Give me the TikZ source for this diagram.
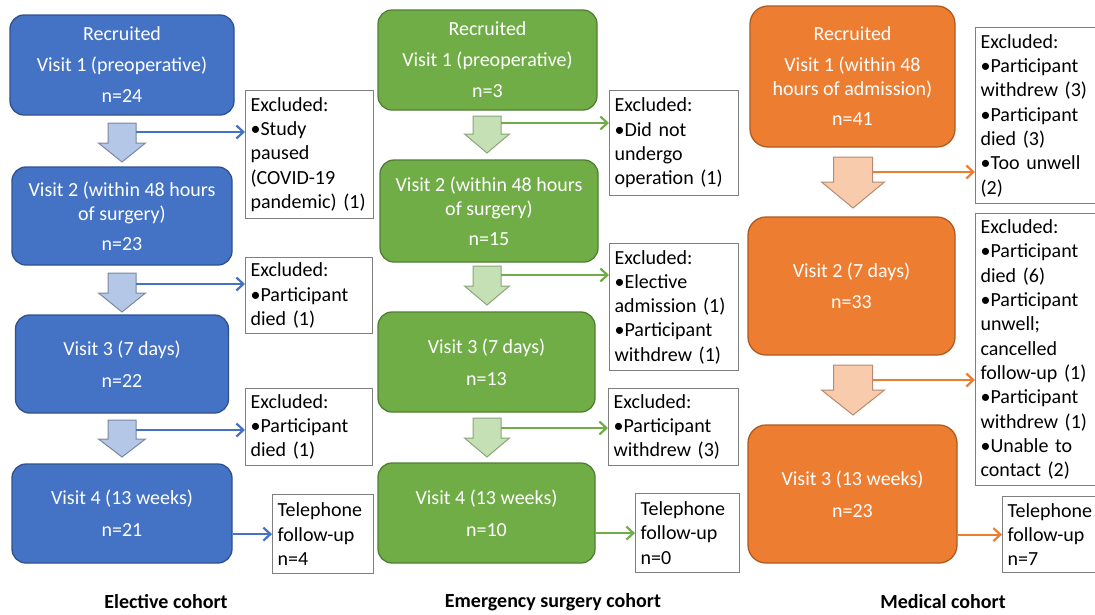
\documentclass[tikz,border=0pt]{standalone}
\usepackage{fontspec}
\setmainfont{Carlito}
\usetikzlibrary{arrows.meta}
\definecolor{bfill}{HTML}{4472C4}
\definecolor{bdraw}{HTML}{2F528F}
\definecolor{barr}{HTML}{B4C7E7}
\definecolor{barrd}{HTML}{7A87A3}
\definecolor{gfill}{HTML}{70AD47}
\definecolor{gdraw}{HTML}{507E32}
\definecolor{garr}{HTML}{C5E0B4}
\definecolor{garrd}{HTML}{8AA57A}
\definecolor{ofill}{HTML}{ED7D31}
\definecolor{odraw}{HTML}{AE5A21}
\definecolor{oarr}{HTML}{F8CBAD}
\definecolor{oarrd}{HTML}{B88A70}
\definecolor{exgray}{HTML}{7F7F7F}
\newcommand{\blockarr}[7]{% cx, top, shaftw, headw, headstart, tip, style
  \draw[#7] ({#1-#3/2},#2) -- ({#1+#3/2},#2) -- ({#1+#3/2},#5) -- ({#1+#4/2},#5)
    -- (#1,#6) -- ({#1-#4/2},#5) -- ({#1-#3/2},#5) -- cycle;}
\begin{document}
\begin{tikzpicture}[x=1pt,y=-1pt,
  mbox/.style={rounded corners=14pt, line width=1.3pt, text=white, align=center,
    font=\fontsize{20}{24}\selectfont, inner sep=0pt},
  bluebox/.style={mbox, fill=bfill, draw=bdraw},
  greenbox/.style={mbox, fill=gfill, draw=gdraw},
  orangebox/.style={mbox, fill=ofill, draw=odraw, rounded corners=18pt},
  exbox/.style={draw=exgray, line width=1.2pt, fill=white, anchor=north west, align=left,
    inner xsep=5pt, inner ysep=0pt, font=\fontsize{20}{24.3}\selectfont},
  barrow/.style={fill=barr, draw=barrd, line width=1pt},
  garrow/.style={fill=garr, draw=garrd, line width=1pt},
  oarrow/.style={fill=oarr, draw=oarrd, line width=1pt},
  bline/.style={draw=bfill, line width=2.2pt, -{Straight Barb[length=7pt,width=13pt,line width=2.2pt]}},
  gline/.style={bline, draw=gfill},
  oline/.style={bline, draw=ofill},
  cohort/.style={font=\fontsize{20}{24}\selectfont\bfseries}
]
\useasboundingbox[fill=white] (0,0) rectangle (1095,614);

% ---------------- Elective (blue) ----------------
\node[bluebox, minimum width=224pt, minimum height=100pt] (b1) at (122,65)
  {Recruited\\[7pt]Visit 1 (preoperative)\\[7pt]n=24};
\node[bluebox, minimum width=220pt, minimum height=98pt] (b2) at (122,216)
  {Visit 2 (within 48 hours\\of surgery)\\[6pt]n=23};
\node[bluebox, minimum width=213pt, minimum height=98pt] (b3) at (122,364)
  {Visit 3 (7 days)\\[8pt]n=22};
\node[bluebox, minimum width=220pt, minimum height=99pt] (b4) at (122,513.5)
  {Visit 4 (13 weeks)\\[8pt]n=21};

\blockarr{122}{123}{28}{47}{143}{162}{barrow}
\blockarr{122}{273}{28}{47}{293}{312}{barrow}
\blockarr{122}{420}{28}{47}{439}{457}{barrow}

\node[exbox, text width=118pt, minimum height=128pt] (bex1) at (245,90)
  {Excluded:\\\textbullet{}Study\\paused\\(COVID-19\\pandemic) (1)};
\node[exbox, text width=117pt, minimum height=76pt] (bex2) at (245,257)
  {Excluded:\\\textbullet{}Participant\\died (1)};
\node[exbox, text width=117pt, minimum height=77pt] (bex3) at (245,388)
  {Excluded:\\\textbullet{}Participant\\died (1)};
\node[exbox, text width=91pt, minimum height=79pt] (tb) at (272,494)
  {Telephone\\follow-up\\n=4};

\coordinate (ba1) at (136,132);
\coordinate (ba2) at (136,284);
\coordinate (ba3) at (136,430);
\draw[bline] (ba1) -- (ba1 -| bex1.west);
\draw[bline] (ba2) -- (ba2 -| bex2.west);
\draw[bline] (ba3) -- (ba3 -| bex3.west);
\draw[bline] (b4.east |- tb.west) -- (tb.west);

\node[cohort] (lb) at (166,602) {Elective cohort};

% ---------------- Emergency (green) ----------------
\node[greenbox, minimum width=219pt, minimum height=100pt] (g1) at (487.5,60)
  {Recruited\\[7pt]Visit 1 (preoperative)\\[7pt]n=3};
\node[greenbox, minimum width=218pt, minimum height=102pt] (g2) at (489,211)
  {Visit 2 (within 48 hours\\of surgery)\\[6pt]n=15};
\node[greenbox, minimum width=217pt, minimum height=100pt] (g3) at (486.5,362)
  {Visit 3 (7 days)\\[8pt]n=13};
\node[greenbox, minimum width=217pt, minimum height=100pt] (g4) at (486.5,513)
  {Visit 4 (13 weeks)\\[8pt]n=10};

\blockarr{487}{116}{28}{45}{134}{153}{garrow}
\blockarr{487}{266}{28}{45}{286}{305}{garrow}
\blockarr{487}{418}{28}{45}{438}{457}{garrow}

\node[exbox, text width=119pt, minimum height=105pt] (gex1) at (609,90)
  {Excluded:\\\textbullet{}Did not\\undergo\\operation (1)};
\node[exbox, text width=119pt, minimum height=127pt] (gex2) at (609,243)
  {Excluded:\\\textbullet{}Elective\\admission (1)\\\textbullet{}Participant\\withdrew (1)};
\node[exbox, text width=120pt, minimum height=77pt] (gex3) at (608,388)
  {Excluded:\\\textbullet{}Participant\\withdrew (3)};
\node[exbox, text width=94pt, minimum height=79pt] (tg) at (635,493)
  {Telephone\\follow-up\\n=0};

\coordinate (ga1) at (501,123);
\coordinate (ga2) at (501,275);
\coordinate (ga3) at (501,428);
\draw[gline] (ga1) -- (ga1 -| gex1.west);
\draw[gline] (ga2) -- (ga2 -| gex2.west);
\draw[gline] (ga3) -- (ga3 -| gex3.west);
\draw[gline] (g4.east |- tg.west) -- (tg.west);

\node[cohort] (lg) at (553,602) {Emergency surgery cohort};

% ---------------- Medical (orange) ----------------
\node[orangebox, minimum width=205pt, minimum height=141pt] (o1) at (852.5,76.5)
  {Recruited\\[7pt]Visit 1 (within 48\\hours of admission)\\[6pt]n=41};
\node[orangebox, minimum width=207pt, minimum height=138pt] (o2) at (851.5,286)
  {Visit 2 (7 days)\\[7pt]n=33};
\node[orangebox, minimum width=209pt, minimum height=138pt] (o3) at (852.5,494)
  {Visit 3 (13 weeks)\\[8pt]n=23};

\blockarr{853}{157}{39}{63}{182}{208}{oarrow}
\blockarr{853}{365}{39}{63}{390}{415}{oarrow}

\node[exbox, text width=115pt, minimum height=176pt] (oex1) at (975,27)
  {Excluded:\\\textbullet{}Participant\\withdrew (3)\\\textbullet{}Participant\\died (3)\\\textbullet{}Too unwell\\(2)};
\node[exbox, text width=115pt, minimum height=272pt] (oex2) at (975,213)
  {Excluded:\\\textbullet{}Participant\\died (6)\\\textbullet{}Participant\\unwell;\\cancelled\\follow-up (1)\\\textbullet{}Participant\\withdrew (1)\\\textbullet{}Unable to\\contact (2)};
\node[exbox, text width=88pt, minimum height=76pt] (to) at (1002,496)
  {Telephone\\follow-up\\n=7};

\coordinate (oa1) at (872.5,172);
\coordinate (oa2) at (872.5,380);
\draw[oline] (oa1) -- (oa1 -| oex1.west);
\draw[oline] (oa2) -- (oa2 -| oex2.west);
\draw[oline] (o3.east |- to.west) -- (to.west);

\node[cohort] (lo) at (943,602) {Medical cohort};
\end{tikzpicture}
\end{document}
